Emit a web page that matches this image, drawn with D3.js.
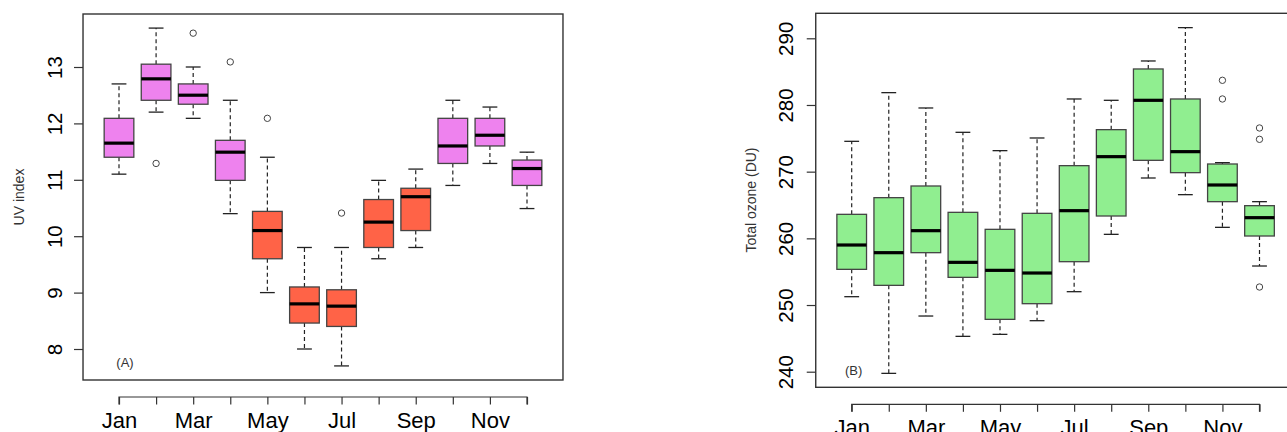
<!DOCTYPE html>
<html>
<head>
<meta charset="utf-8">
<script src="https://cdn.jsdelivr.net/npm/d3@7"></script>
<style>
  html, body { margin: 0; padding: 0; background: #fff; }
  svg { display: block; font-family: "Liberation Sans", Arial, sans-serif; }
</style>
</head>
<body>
<svg id="chart" width="1287" height="432"></svg>
<script>
// ---------- DATA ----------
const months = [1,2,3,4,5,6,7,8,9,10,11,12];
const monthLabels = ["Jan","","Mar","","May","","Jul","","Sep","","Nov",""];

// Panel A: UV index
const uvLow    = [11.10, 12.20, 12.09, 10.40,  9.00,  8.00,  7.70,  9.60,  9.80, 10.90, 11.29, 10.49];
const uvQ1     = [11.40, 12.41, 12.34, 10.99,  9.60,  8.46,  8.40,  9.80, 10.10, 11.29, 11.60, 10.90];
const uvMedian = [11.65, 12.79, 12.50, 11.49, 10.10,  8.80,  8.76, 10.25, 10.70, 11.60, 11.79, 11.20];
const uvQ3     = [12.09, 13.05, 12.70, 11.70, 10.44,  9.10,  9.05, 10.65, 10.85, 12.09, 12.09, 11.35];
const uvHigh   = [12.70, 13.69, 13.00, 12.41, 11.40,  9.80,  9.80, 10.99, 11.19, 12.41, 12.29, 11.49];
const uvSeason = ["dry","dry","dry","dry","wet","wet","wet","wet","wet","dry","dry","dry"];
const uvOutlierMonth = [2, 3, 4, 5, 7];
const uvOutlierValue = [11.29, 13.60, 13.09, 12.09, 10.41];
const uvTicks = [8, 9, 10, 11, 12, 13];

// Panel B: Total ozone (DU)
const ozLow    = [251.25, 239.75, 248.35, 245.30, 245.60, 247.65, 252.00, 260.60, 269.05, 266.55, 261.65, 255.85];
const ozQ1     = [255.35, 252.95, 257.85, 254.15, 247.85, 250.20, 256.50, 263.35, 271.70, 269.85, 265.50, 260.35];
const ozMedian = [259.00, 257.85, 261.15, 256.40, 255.20, 254.80, 264.15, 272.25, 280.70, 273.00, 268.00, 263.10];
const ozQ3     = [263.60, 266.10, 267.85, 263.90, 261.35, 263.75, 270.90, 276.30, 285.40, 280.90, 271.15, 264.90];
const ozHigh   = [274.55, 281.85, 279.55, 275.90, 273.15, 275.05, 280.90, 280.70, 286.60, 291.60, 271.35, 265.50];
const ozOutlierMonth = [11, 11, 12, 12, 12];
const ozOutlierValue = [283.70, 280.90, 276.55, 274.85, 252.70];
const ozTicks = [240, 250, 260, 270, 280, 290];

// ---------- STYLE ----------
const seasonColor = { dry: "#EE82EE", wet: "#FF6347" };
const ozColor = "#90EE90";

const svg = d3.select("#chart");

function panel(cfg) {
  const g = svg.append("g");
  const x = d3.scaleLinear().domain([1, 12]).range(cfg.xRange);
  const y = d3.scaleLinear().domain(cfg.yDomain).range(cfg.yRange);
  const step = x(2) - x(1);
  const bw = x(1.4) - x(0.6);
  const cap = bw / 2;

  // frame
  const fx0 = x(0.03), fx1 = x(12.97);
  g.append("rect")
    .attr("x", fx0).attr("y", cfg.frameTop)
    .attr("width", fx1 - fx0).attr("height", cfg.frameBottom - cfg.frameTop)
    .attr("fill", "none").attr("stroke", "#333").attr("stroke-width", 1.4);

  const rows = months.map((m, i) => ({
    m, low: cfg.low[i], q1: cfg.q1[i], med: cfg.med[i], q3: cfg.q3[i], high: cfg.high[i],
    fill: cfg.fill(i)
  }));

  const b = g.selectAll(".box").data(rows).enter().append("g").attr("class", "box");
  // whiskers (dashed)
  b.append("line").attr("x1", d => x(d.m)).attr("x2", d => x(d.m))
    .attr("y1", d => y(d.q3)).attr("y2", d => y(d.high))
    .attr("stroke", "#222").attr("stroke-width", 1.2).attr("stroke-dasharray", "4,3");
  b.append("line").attr("x1", d => x(d.m)).attr("x2", d => x(d.m))
    .attr("y1", d => y(d.q1)).attr("y2", d => y(d.low))
    .attr("stroke", "#222").attr("stroke-width", 1.2).attr("stroke-dasharray", "4,3");
  // caps
  b.append("line").attr("x1", d => x(d.m) - cap / 2).attr("x2", d => x(d.m) + cap / 2)
    .attr("y1", d => y(d.high)).attr("y2", d => y(d.high))
    .attr("stroke", "#222").attr("stroke-width", 1.3);
  b.append("line").attr("x1", d => x(d.m) - cap / 2).attr("x2", d => x(d.m) + cap / 2)
    .attr("y1", d => y(d.low)).attr("y2", d => y(d.low))
    .attr("stroke", "#222").attr("stroke-width", 1.3);
  // box
  b.append("rect").attr("x", d => x(d.m) - bw / 2).attr("width", bw)
    .attr("y", d => y(d.q3)).attr("height", d => y(d.q1) - y(d.q3))
    .attr("fill", d => d.fill).attr("stroke", "#444").attr("stroke-width", 1.3);
  // median
  b.append("line").attr("x1", d => x(d.m) - bw / 2).attr("x2", d => x(d.m) + bw / 2)
    .attr("y1", d => y(d.med)).attr("y2", d => y(d.med))
    .attr("stroke", "#000").attr("stroke-width", 3.2);

  // outliers
  g.selectAll(".out").data(cfg.outM.map((m, i) => ({ m, v: cfg.outV[i] }))).enter()
    .append("circle").attr("class", "out")
    .attr("cx", d => x(d.m)).attr("cy", d => y(d.v)).attr("r", 3.2)
    .attr("fill", "none").attr("stroke", "#444").attr("stroke-width", 1);

  // y axis
  const ya = g.append("g").attr("transform", `translate(${fx0},0)`)
    .call(d3.axisLeft(y).tickValues(cfg.yTicks).tickSize(9).tickFormat(d3.format("d")));
  ya.select(".domain").remove();
  ya.selectAll(".tick line").attr("stroke", "#333").attr("stroke-width", 1.2);
  ya.selectAll(".tick text")
    .attr("x", null).attr("dy", null)
    .attr("text-anchor", "middle")
    .attr("transform", `translate(${cfg.yLabelOffset},0) rotate(-90)`)
    .attr("font-size", 20.5).attr("fill", "#000");

  // x axis
  const xa = g.append("g").attr("transform", `translate(0,${cfg.xAxisY})`)
    .call(d3.axisBottom(x).tickValues(months).tickSize(7.5).tickPadding(8)
      .tickFormat((d, i) => monthLabels[i]));
  xa.select(".domain").attr("d", `M${x(1)},7.5V0H${x(12)}V7.5`).attr("stroke", "#333").attr("stroke-width", 1.2);
  xa.selectAll(".tick line").attr("stroke", "#333").attr("stroke-width", 1.2);
  xa.selectAll(".tick text").attr("font-size", 22).attr("fill", "#000");

  // y title
  g.append("text")
    .attr("transform", `translate(${cfg.titleX},${cfg.titleY}) rotate(-90)`)
    .attr("text-anchor", "middle").attr("font-size", 14).attr("fill", "#333")
    .text(cfg.title);

  // panel tag
  g.append("text").attr("x", cfg.tagX).attr("y", cfg.tagY)
    .attr("text-anchor", "middle").attr("font-size", 13).attr("fill", "#333")
    .text(cfg.tag);
}

panel({
  xRange: [119, 527], yDomain: [8, 13], yRange: [349, 67],
  frameTop: 14, frameBottom: 380,
  low: uvLow, q1: uvQ1, med: uvMedian, q3: uvQ3, high: uvHigh,
  fill: i => seasonColor[uvSeason[i]],
  outM: uvOutlierMonth, outV: uvOutlierValue, yTicks: uvTicks,
  yLabelOffset: -20.6, xAxisY: 397,
  title: "UV index", titleX: 24, titleY: 197,
  tag: "(A)", tagX: 125, tagY: 367
});

panel({
  xRange: [851.7, 1259.5], yDomain: [240, 290], yRange: [371.7, 38.3],
  frameTop: 13.3, frameBottom: 387.3,
  low: ozLow, q1: ozQ1, med: ozMedian, q3: ozQ3, high: ozHigh,
  fill: () => ozColor,
  outM: ozOutlierMonth, outV: ozOutlierValue, yTicks: ozTicks,
  yLabelOffset: -22.4, xAxisY: 404.3,
  title: "Total ozone (DU)", titleX: 756, titleY: 200,
  tag: "(B)", tagX: 853.7, tagY: 375
});
</script>
</body>
</html>
